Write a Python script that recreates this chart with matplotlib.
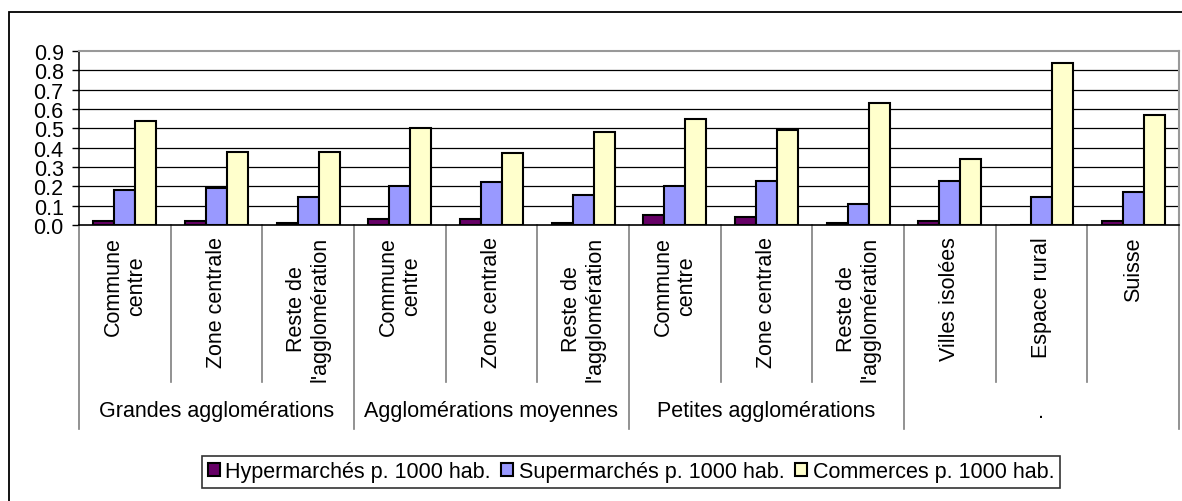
import matplotlib.pyplot as plt
import numpy as np
from matplotlib.patches import Rectangle
from matplotlib.transforms import blended_transform_factory

plt.rcParams['font.family'] = ['Liberation Sans', 'DejaVu Sans']

# data
categories = ["Commune\ncentre", "Zone centrale", "Reste de\nl'agglomération",
              "Commune\ncentre", "Zone centrale", "Reste de\nl'agglomération",
              "Commune\ncentre", "Zone centrale", "Reste de\nl'agglomération",
              "Villes isolées", "Espace rural", "Suisse"]
groups = ["Grandes agglomérations", "Agglomérations moyennes", "Petites agglomérations", "."]
group_sizes = [3, 3, 3, 3]
hyper = [0.02, 0.02, 0.01, 0.03, 0.03, 0.01, 0.05, 0.04, 0.01, 0.02, 0.0, 0.02]
super_ = [0.18, 0.19, 0.145, 0.20, 0.22, 0.155, 0.20, 0.23, 0.11, 0.23, 0.145, 0.17]
commerce = [0.54, 0.38, 0.38, 0.50, 0.37, 0.48, 0.55, 0.49, 0.63, 0.34, 0.84, 0.57]
series_names = ["Hypermarchés p. 1000 hab.", "Supermarchés p. 1000 hab.", "Commerces p. 1000 hab."]
colors = ["#660066", "#9999FF", "#FFFFCC"]

FS = 15.5
W, H = 1182, 502
fig = plt.figure(figsize=(W / 100, H / 100), dpi=100)
ax = fig.add_axes([79 / W, 1 - 226 / H, 1100 / W, 174 / H])

x = np.arange(len(categories))
bw = 0.23
for k, vals in enumerate([hyper, super_, commerce]):
    ax.bar(x + (k - 1) * bw, vals, bw, color=colors[k], edgecolor="black",
           linewidth=1.5, label=series_names[k], zorder=3)

ax.set_xlim(-0.5, len(categories) - 0.5)
ax.set_ylim(0, 0.9)
ticks = np.arange(0, 0.91, 0.1)
ax.set_yticks(ticks)
ax.set_yticklabels([f"{v:.1f}" for v in ticks], fontsize=FS)
ax.tick_params(axis="y", direction="out", length=5, width=1, pad=6)
ax.set_xticks([])
for yv in ticks[1:-1]:
    ax.axhline(yv, color="black", linewidth=0.9, zorder=1)
for s in ["top", "right"]:
    ax.spines[s].set_color("#999999")
    ax.spines[s].set_linewidth(1.5)
ax.spines["left"].set_linewidth(1.1)
ax.spines["bottom"].set_linewidth(1.2)

# category axis: labels and dividers below the plot
tr = blended_transform_factory(ax.transData, fig.transFigure)
fy = lambda py: 1 - py / H
for i, lab in enumerate(categories):
    ax.text(i, fy(237), lab, transform=tr, rotation=90, ha="center", va="top",
            multialignment="center", fontsize=FS, linespacing=1.15)
bounds = np.cumsum([0] + group_sizes) - 0.5
for b in np.arange(-0.5, len(categories)):
    bottom = 430 if b in bounds else 383
    ax.plot([b, b], [fy(226), fy(bottom)], transform=tr, color="#7f7f7f",
            linewidth=1.2, clip_on=False)
for g, name in enumerate(groups):
    c = (bounds[g] + bounds[g + 1]) / 2
    ax.text(c, fy(412), name, transform=tr, ha="center", va="center", fontsize=FS)

# outer frame
fig.patches.append(Rectangle((9 / W, -0.02), 1.1, 1 - 12.5 / H + 0.02,
                             transform=fig.transFigure, fill=False,
                             edgecolor="black", linewidth=1.3))

leg = fig.legend(loc="upper center", bbox_to_anchor=(631 / W, 1 - 457 / H), ncol=3,
                 fontsize=FS, frameon=True, fancybox=False, handlelength=0.56,
                 handleheight=0.56, handletextpad=0.25, columnspacing=0.5,
                 borderpad=0.25, borderaxespad=0)
leg.get_frame().set_edgecolor("black")
leg.get_frame().set_linewidth(1.2)

fig.savefig("out.png", dpi=100)
